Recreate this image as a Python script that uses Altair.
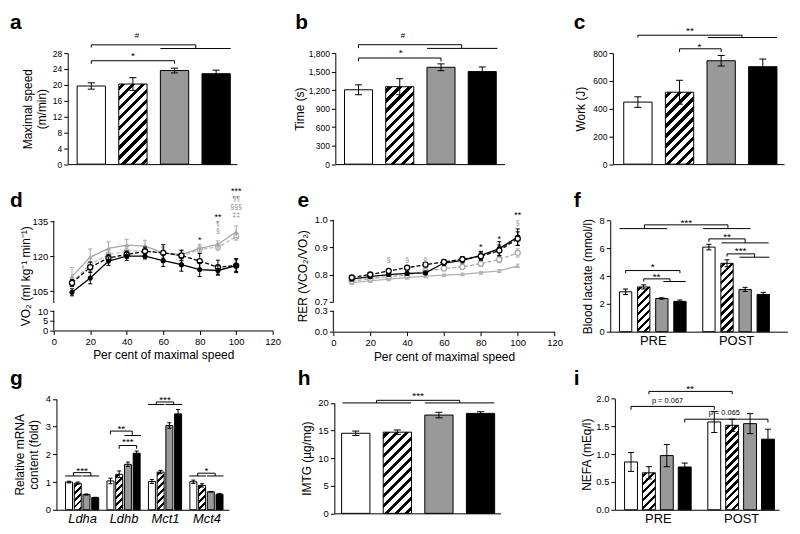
import altair as alt
import pandas as pd

FONT = "Liberation Sans"

# ---------------- values ----------------
bar_fills = ["#ffffff", "hatch", "#999999", "#000000"]

a_values = [19.7, 20.2, 23.6, 22.8]
a_errors = [0.8, 1.6, 0.6, 0.9]

b_values = [1205, 1255, 1570, 1500]
b_errors = [80, 130, 55, 75]

c_values = [447, 518, 745, 702]
c_errors = [38, 86, 38, 55]

speed_pct = [10, 20, 30, 40, 50, 60, 70, 80, 90, 100]
vo2_black_solid = [104.6, 110.7, 117.9, 120.0, 120.0, 118.1, 116.4, 114.3, 113.9, 116.0]
vo2_black_solid_err = [1.5, 2.5, 1.8, 1.8, 1.2, 2.5, 2.8, 3.0, 2.0, 2.5]
vo2_black_dashed = [108.6, 115.3, 119.3, 120.7, 122.1, 121.4, 120.3, 117.9, 115.3, 116.0]
vo2_black_dashed_err = [1.5, 2.2, 1.5, 1.5, 1.8, 3.5, 2.2, 3.2, 3.0, 3.0]
vo2_gray_solid = [111.4, 119.6, 123.3, 124.7, 124.3, 121.4, 120.7, 123.3, 125.0, 130.4]
vo2_gray_solid_err = [3.8, 3.5, 2.8, 2.5, 2.5, 2.5, 2.0, 1.8, 1.5, 2.5]
vo2_gray_dashed = [108.9, 116.6, 120.7, 122.1, 122.4, 121.4, 120.0, 122.9, 123.9, 128.3]
vo2_gray_dashed_err = [2.0, 2.5, 2.0, 2.0, 2.0, 2.0, 2.0, 1.5, 1.5, 1.5]

rer_black_solid = [0.783, 0.792, 0.800, 0.804, 0.806, 0.842, 0.852, 0.870, 0.895, 0.937]
rer_black_solid_err = [0.005, 0.005, 0.006, 0.006, 0.006, 0.008, 0.010, 0.015, 0.025, 0.030]
rer_black_dashed = [0.789, 0.800, 0.813, 0.825, 0.836, 0.846, 0.856, 0.867, 0.888, 0.931]
rer_black_dashed_err = [0.005, 0.005, 0.006, 0.007, 0.007, 0.008, 0.010, 0.015, 0.020, 0.025]
rer_gray_solid = [0.770, 0.777, 0.783, 0.789, 0.794, 0.798, 0.801, 0.807, 0.813, 0.832]
rer_gray_solid_err = [0.004, 0.004, 0.004, 0.004, 0.004, 0.004, 0.004, 0.004, 0.005, 0.006]
rer_gray_dashed = [0.776, 0.785, 0.792, 0.798, 0.813, 0.822, 0.828, 0.840, 0.855, 0.879]
rer_gray_dashed_err = [0.005, 0.005, 0.005, 0.006, 0.006, 0.007, 0.008, 0.010, 0.012, 0.015]

phases = ["PRE", "POST"]
lactate_pre = [2.87, 3.22, 2.39, 2.18]
lactate_pre_err = [0.20, 0.15, 0.05, 0.10]
lactate_post = [6.09, 4.92, 3.04, 2.68]
lactate_post_err = [0.20, 0.25, 0.15, 0.15]

genes = ["Ldha", "Ldhb", "Mct1", "Mct4"]
mrna_white = [1.00, 1.04, 1.02, 1.01]
mrna_hatched = [0.96, 1.28, 1.36, 0.88]
mrna_gray = [0.55, 1.64, 3.04, 0.65]
mrna_black = [0.44, 2.04, 3.46, 0.56]
mrna_white_err = [0.03, 0.10, 0.07, 0.06]
mrna_hatched_err = [0.04, 0.12, 0.06, 0.06]
mrna_gray_err = [0.02, 0.08, 0.10, 0.01]
mrna_black_err = [0.01, 0.08, 0.16, 0.03]

imtg_values = [14.5, 14.7, 17.8, 18.1]
imtg_errors = [0.4, 0.4, 0.5, 0.3]

nefa_pre = [0.86, 0.665, 0.975, 0.77]
nefa_pre_err = [0.17, 0.11, 0.20, 0.07]
nefa_post = [1.58, 1.52, 1.55, 1.27]
nefa_post_err = [0.19, 0.11, 0.18, 0.18]

# ---------------- layout ----------------
HC = 112
CELL_W = [241, 241, 174]
COL_GAP = 41
ROW_GAP = 62


def label_expr(pairs, tol):
    expr = "''"
    for v, lab in reversed(pairs):
        expr = f"abs(datum.value - {v}) < {tol} ? '{lab}' : ({expr})"
    return expr


def hatch_fill(wpx, hpx, period, frac=0.42):
    tot = wpx + hpx
    k = tot / (wpx ** 2 + hpx ** 2)
    pt = period / tot
    stops = [{"offset": 0.0, "color": "#ffffff"}]
    prev = "#ffffff"
    s = 0.25 * pt
    while s < 1.0:
        for off, col in ((s, "#000000"), (s + frac * pt, "#ffffff")):
            off = round(min(off, 1.0), 5)
            stops.append({"offset": off, "color": prev})
            stops.append({"offset": off, "color": col})
            prev = col
        s += pt
    stops.append({"offset": 1.0, "color": prev})
    return {"gradient": "linear", "x1": 0, "y1": 0,
            "x2": round(k * wpx, 5), "y2": round(k * hpx, 5), "stops": stops}


def make_scales(geom, xdom, ydom):
    ax, w, ay, h = geom
    xs = alt.Scale(domain=xdom, range=[ax, ax + w], nice=False, zero=False)
    ys = alt.Scale(domain=ydom, range=[ay + h, ay], nice=False, zero=False)
    return xs, ys


def annotation_layers(X, Y, brackets, lines, marks):
    segs = []
    for x1, x2, y, l1, l2 in brackets:
        segs.append((x1, x2, y, y))
        segs.append((x1, x1, y, l1))
        segs.append((x2, x2, y, l2))
    for x1, x2, y in lines:
        segs.append((x1, x2, y, y))
    layers = []
    if segs:
        sdf = pd.DataFrame(segs, columns=["sx", "sx2", "sy", "sy2"])
        layers.append(alt.Chart(sdf).mark_rule(color="black", strokeWidth=1).encode(
            x=X("sx"), x2="sx2:Q", y=Y("sy"), y2="sy2:Q"))
    for x, y, t, size, color in marks:
        is_star = set(t) == {"*"}
        mdf = pd.DataFrame({"mx": [x], "my": [y], "mt": [t]})
        layers.append(alt.Chart(mdf).mark_text(
            fontSize=size, color=color, baseline="middle", align="center",
            dy=round(0.28 * size) if is_star else 0, font=FONT).encode(
            x=X("mx"), y=Y("my"), text="mt:N"))
    return layers


def letter_layer(letter, lx, ly):
    return alt.Chart(pd.DataFrame({"t": [letter]})).mark_text(
        fontSize=21, fontWeight="bold", align="left", baseline="alphabetic", font=FONT
    ).encode(x=alt.value(lx), y=alt.value(ly), text="t:N")


def bar_panel(geom, xdom, ydom, xpos, vals, errs, fills, hw, capw, period,
              yaxis, xaxis, brackets, lines, marks, letter, lpos, cell_w):
    ax, w, ay, h = geom
    xs, ys = make_scales(geom, xdom, ydom)
    px_x = w / (xdom[1] - xdom[0])
    px_y = h / (ydom[1] - ydom[0])

    def X(f):
        return alt.X(f + ":Q", scale=xs, axis=xaxis)

    def Y(f):
        return alt.Y(f + ":Q", scale=ys, axis=yaxis)

    bars = pd.DataFrame({"pos": xpos, "val": vals, "err": errs, "fill": fills})
    bars["xl"] = bars["pos"] - hw
    bars["xr"] = bars["pos"] + hw
    bars["base"] = 0.0
    bars["lo"] = bars["val"] - bars["err"]
    bars["hi"] = bars["val"] + bars["err"]

    layers = []
    solid = bars[bars["fill"] != "hatch"]
    layers.append(alt.Chart(solid).mark_rect(stroke="black", strokeWidth=1).encode(
        x=X("xl"), x2="xr:Q", y=Y("val"), y2="base:Q",
        fill=alt.Fill("fill:N", scale=None)))
    for _, row in bars[bars["fill"] == "hatch"].iterrows():
        grad = hatch_fill(2 * hw * px_x, row["val"] * px_y, period)
        one = pd.DataFrame({"xl": [row["xl"]], "xr": [row["xr"]], "val": [row["val"]], "base": [0.0]})
        layers.append(alt.Chart(one).mark_rect(fill=grad, stroke="black", strokeWidth=1).encode(
            x=X("xl"), x2="xr:Q", y=Y("val"), y2="base:Q"))
    layers.append(alt.Chart(bars).mark_rule(color="black", strokeWidth=1).encode(
        x=X("pos"), y=Y("lo"), y2="hi:Q"))
    caps = pd.DataFrame({
        "cl": list(bars["pos"] - capw) * 2,
        "cr": list(bars["pos"] + capw) * 2,
        "cy": list(bars["lo"]) + list(bars["hi"]),
    })
    layers.append(alt.Chart(caps).mark_rule(color="black", strokeWidth=1).encode(
        x=X("cl"), x2="cr:Q", y=Y("cy")))
    layers += annotation_layers(X, Y, brackets, lines, marks)
    layers.append(letter_layer(letter, *lpos))
    return alt.layer(*layers).properties(width=cell_w, height=HC)


def line_panel(geom, xdom, ydom, series, capw, yaxis, xaxis, axis_breaks, marks, letter, lpos, cell_w):
    xs, ys = make_scales(geom, xdom, ydom)

    def X(f):
        return alt.X(f + ":Q", scale=xs, axis=xaxis)

    def Y(f):
        return alt.Y(f + ":Q", scale=ys, axis=yaxis)

    layers = []
    bdf = pd.DataFrame({"bx": [xdom[0]] * len(axis_breaks),
                        "by": [b[0] for b in axis_breaks],
                        "by2": [b[1] for b in axis_breaks]})
    layers.append(alt.Chart(bdf).mark_rule(color="black", strokeWidth=1).encode(
        x=X("bx"), y=Y("by"), y2="by2:Q"))
    for vals, errs, color, dashed, marker in series:
        df = pd.DataFrame({"x": speed_pct, "v": vals, "e": errs})
        df["lo"] = df["v"] - df["e"]
        df["hi"] = df["v"] + df["e"]
        lkw = {"color": color, "strokeWidth": 1.3}
        if dashed:
            lkw["strokeDash"] = [4, 2]
        layers.append(alt.Chart(df).mark_line(**lkw).encode(x=X("x"), y=Y("v")))
        layers.append(alt.Chart(df).mark_rule(color=color, strokeWidth=1).encode(
            x=X("x"), y=Y("lo"), y2="hi:Q"))
        caps = pd.DataFrame({"cl": [x - capw for x in speed_pct] * 2,
                             "cr": [x + capw for x in speed_pct] * 2,
                             "cy": list(df["lo"]) + list(df["hi"])})
        layers.append(alt.Chart(caps).mark_rule(color=color, strokeWidth=1).encode(
            x=X("cl"), x2="cr:Q", y=Y("cy")))
        if marker == "filled":
            pm = dict(shape="circle", size=26, filled=True, color=color, opacity=1)
        elif marker == "open":
            pm = dict(shape="circle", size=26, filled=True, fill="white", stroke=color,
                      strokeWidth=1.3, opacity=1)
        else:
            pm = dict(shape="triangle-up", size=24, filled=True, color=color, opacity=1)
        layers.append(alt.Chart(df).mark_point(**pm).encode(x=X("x"), y=Y("v")))
    layers += annotation_layers(X, Y, [], [], marks)
    layers.append(letter_layer(letter, *lpos))
    return alt.layer(*layers).properties(width=cell_w, height=HC)


def yax(values, title, offset, pad, size, fmt=None, expr=None, domain=True):
    kw = dict(values=values, title=title, offset=offset, titlePadding=pad,
              labelFontSize=size, titleFontSize=12, tickSize=4, domain=domain)
    if fmt:
        kw["format"] = fmt
    if expr:
        kw["labelExpr"] = expr
    return alt.Axis(**kw)


def plain_xax(offset):
    return alt.Axis(labels=False, ticks=False, title=None, domain=True, offset=offset)


def cat_xax(values, labels, offset, italic=False):
    kw = dict(values=values, labelExpr=label_expr(list(zip(values, labels)), 0.05),
              title=None, tickSize=0, ticks=False, labelPadding=3, labelFontSize=13,
              offset=offset, domain=True)
    if italic:
        kw["labelFontStyle"] = "italic"
    return alt.Axis(**kw)


def xoff(geom):
    return geom[2] + geom[3] - HC


# ---------------- panels a, b, c ----------------
pos4 = [0, 1, 2, 3]

ga = (14, 170, 0, 111.6)
panel_a = bar_panel(
    ga, [-0.567, 3.497], [0, 28], pos4, a_values, a_errors, bar_fills, 0.34, 0.085, 10,
    yax(list(range(0, 29, 4)), ["Maximal speed", "(m/min)"], -ga[0], 4, 8.5),
    plain_xax(xoff(ga)),
    [(0, 2, 26.07, 25.3, 25.3), (0, 2.51, 30.08, 29.4, 29.15)],
    [(1.66, 3.35, 29.15)],
    [(1.1, 32.3, "#", 8, "black"), (1.0, 27.97, "*", 10, "black")],
    "a", (-44, -24.4), CELL_W[0])

gb = (1, 170, 0, 111.6)
panel_b = bar_panel(
    gb, [-0.562, 3.539], [0, 1800], pos4, b_values, b_errors, bar_fills, 0.34, 0.085, 10,
    yax(list(range(0, 1801, 300)), "Time (s)", -gb[0], 2, 8.5, fmt=",.0f"),
    plain_xax(xoff(gb)),
    [(0, 2, 1720, 1666, 1666), (0, 2.5, 1936, 1881, 1876)],
    [(1.66, 3.37, 1876)],
    [(1.08, 2081, "#", 8, "black"), (1.02, 1844, "*", 10, "black")],
    "b", (-39.3, -24.4), CELL_W[1])

gc = (-2, 172, 0, 111.6)
panel_c = bar_panel(
    gc, [-0.6, 3.51], [0, 800], pos4, c_values, c_errors, bar_fills, 0.34, 0.085, 10,
    yax(list(range(0, 801, 200)), "Work (J)", -gc[0], 5, 8.5),
    plain_xax(xoff(gc)),
    [(1, 2, 831, 807, 807), (0, 2.5, 929, 912, 912)],
    [(1.68, 3.34, 912)],
    [(1.48, 867, "*", 10, "black"), (1.25, 979, "**", 10, "black")],
    "c", (-41.3, -24.4), CELL_W[2])

# ---------------- panels d, e ----------------
GRAY_TXT = "#8a8a8a"
gd = (0, 220, -5.2, 110)
d_ticks = [(88.3, "0"), (92.45, "5"), (96.6, "10"), (105, "105"), (120, "120"), (135, "135")]
panel_d = line_panel(
    gd, [0, 120], [88.3, 135],
    [(vo2_gray_dashed, vo2_gray_dashed_err, "#bdbdbd", True, "open"),
     (vo2_gray_solid, vo2_gray_solid_err, "#a6a6a6", False, "tri"),
     (vo2_black_dashed, vo2_black_dashed_err, "#000000", True, "open"),
     (vo2_black_solid, vo2_black_solid_err, "#000000", False, "filled")],
    1.1,
    yax([t[0] for t in d_ticks], "VO₂ (ml kg⁻¹ min⁻¹)", -gd[0], 0, 9.5,
        expr=label_expr(d_ticks, 0.05), domain=False),
    alt.Axis(values=list(range(0, 121, 20)), format="d", title="Per cent of maximal speed",
             titleFontSize=12, labelFontSize=9.5, tickSize=4, offset=xoff(gd)),
    [(88.3, 96.6), (100.0, 135.0)],
    [(80, 128.1, "*", 9, "black"), (90, 138.2, "**", 9, "black"),
     (90, 133.9, "¶", 7, GRAY_TXT), (90, 130.6, "§", 7, GRAY_TXT),
     (100, 149.0, "***", 9, "black"), (100, 144.6, "¶¶", 7, GRAY_TXT),
     (100, 141.0, "§§§", 7, GRAY_TXT), (100, 137.4, "‡‡", 7, GRAY_TXT)],
    "d", (-44, -19), CELL_W[0])

ge = (-1, 222.4, -6.4, 112.4)
e_ticks = [(0.591, "0.0"), (0.667, "0.3"), (0.7, "0.7"), (0.8, "0.8"), (0.9, "0.9"), (1.0, "1.0")]
panel_e = line_panel(
    ge, [0, 120], [0.591, 1.0],
    [(rer_gray_solid, rer_gray_solid_err, "#b3b3b3", False, "tri"),
     (rer_gray_dashed, rer_gray_dashed_err, "#a8a8a8", True, "open"),
     (rer_black_solid, rer_black_solid_err, "#000000", False, "filled"),
     (rer_black_dashed, rer_black_dashed_err, "#000000", True, "open")],
    1.1,
    yax([t[0] for t in e_ticks], "RER (VCO₂/VO₂)", -ge[0], 5, 9.5,
        expr=label_expr(e_ticks, 0.005), domain=False),
    alt.Axis(values=list(range(0, 121, 20)), format="d", title="Per cent of maximal speed",
             titleFontSize=12, labelFontSize=9.5, tickSize=4, offset=xoff(ge)),
    [(0.591, 0.667), (0.7, 1.0)],
    [(30, 0.854, "§", 7, GRAY_TXT), (40, 0.854, "§", 7, GRAY_TXT), (50, 0.854, "§", 7, GRAY_TXT),
     (80, 0.910, "*", 9, "black"), (90, 0.939, "*", 9, "black"),
     (100, 1.028, "**", 9, "black"), (100, 0.988, "§", 7, GRAY_TXT)],
    "e", (-37, -19), CELL_W[1])

# ---------------- panel f ----------------
gf = (-4.7, 178, -5.7, 111.7)
f_post0 = 4.6
f_pos = [0, 1, 2, 3] + [f_post0 + k for k in range(4)]
panel_f = bar_panel(
    gf, [-0.85, 8.93], [0, 8], f_pos, lactate_pre + lactate_post,
    lactate_pre_err + lactate_post_err, bar_fills * 2, 0.34, 0.14, 8,
    yax([0, 2, 4, 6, 8], "Blood lactate (mmol/l)", -gf[0], 5, 9.5),
    cat_xax([1.5, f_post0 + 1.5], phases, xoff(gf)),
    [(1.04, 5.65, 7.69, 7.42, 7.42), (4.6, 6.6, 6.68, 6.47, 6.39),
     (5.6, 7.12, 5.6, 5.41, 5.36), (0, 3, 4.4, 4.21, 4.21), (1, 2.45, 3.8, 3.61, 3.61)],
    [(-0.34, 2.3, 7.42), (4.28, 6.9, 7.42), (5.29, 7.9, 6.39), (6.29, 7.94, 5.36),
     (2.08, 3.32, 3.61)],
    [(3.35, 8.07, "***", 10, "black"), (5.6, 7.04, "**", 10, "black"),
     (6.35, 6.01, "***", 10, "black"), (1.5, 4.88, "*", 10, "black"),
     (1.71, 4.16, "**", 10, "black")],
    "f", (-41.3, -19), CELL_W[2])

# ---------------- panel g ----------------
gg = (2.7, 173.3, -0.4, 111.4)
g_step = 4.75
g_pos, g_vals, g_errs, g_fills = [], [], [], []
for j in range(len(genes)):
    for k, (vl, el) in enumerate([(mrna_white, mrna_white_err), (mrna_hatched, mrna_hatched_err),
                                  (mrna_gray, mrna_gray_err), (mrna_black, mrna_black_err)]):
        g_pos.append(g_step * j + k)
        g_vals.append(vl[j])
        g_errs.append(el[j])
        g_fills.append(bar_fills[k])
g_br, g_ln, g_mk = [], [], []
for j, (yl, yb, yt, t) in zip([0, 2, 3], [(1.22, 1.34, 1.52, "***"), (3.8, 3.89, 4.07, "***"),
                                         (1.22, 1.32, 1.52, "*")]):
    o = g_step * j
    g_ln += [(o - 0.45, o + 1.45, yl), (o + 1.55, o + 3.45, yl)]
    g_br.append((o + 0.5, o + 2.5, yb, yl, yl))
    g_mk.append((o + 1.5, yt, t, 10, "black"))
o = g_step
g_br += [(o, o + 2.5, 2.84, 2.72, 2.68), (o + 1, o + 3, 2.32, 2.2, 2.2)]
g_ln += [(o + 1.6, o + 3.5, 2.68)]
g_mk += [(o + 1.25, 3.02, "**", 10, "black"), (o + 2.0, 2.54, "***", 10, "black")]
panel_g = bar_panel(
    gg, [-1.44, 18.32], [0, 4], g_pos, g_vals, g_errs, g_fills, 0.4, 0.23, 7,
    yax([0, 1, 2, 3, 4], ["Relative mRNA", "content (fold)"], -gg[0], 5, 9.5),
    cat_xax([g_step * j + 1.5 for j in range(4)], genes, xoff(gg), italic=True),
    g_br, g_ln, g_mk, "g", (-44, -14.7), CELL_W[0])

# ---------------- panel h ----------------
gh = (0, 167, 3.6, 111)
panel_h = bar_panel(
    gh, [-0.515, 3.48], [0, 20], pos4, imtg_values, imtg_errors, bar_fills, 0.34, 0.085, 10,
    yax([0, 5, 10, 15, 20], "IMTG (µg/mg)", -gh[0], 4, 9.5),
    plain_xax(xoff(gh)),
    [(0.5, 2.5, 20.47, 20, 20)],
    [(-0.32, 1.33, 20), (1.66, 3.33, 20)],
    [(1.5, 21.8, "***", 10, "black")],
    "h", (-36.7, -14.7), CELL_W[1])

# ---------------- panel i ----------------
gi = (0, 165, -0.7, 111.7)
i_post0 = 4.65
i_pos = [0, 1, 2, 3] + [i_post0 + k for k in range(4)]
panel_i = bar_panel(
    gi, [-0.9, 8.27], [0, 2], i_pos, nefa_pre + nefa_post, nefa_pre_err + nefa_post_err,
    bar_fills * 2, 0.36, 0.17, 8,
    yax([0, 0.5, 1, 1.5, 2], "NEFA (mEq/l)", -gi[0], 2, 9.5, fmt=".1f"),
    cat_xax([1.5, i_post0 + 1.5], phases, xoff(gi)),
    [(1, i_post0 + 1, 2.13, 2.08, 2.08), (0, i_post0, 1.86, 1.80, 1.80),
     (3, i_post0 + 3, 1.63, 1.57, 1.57)],
    [],
    [(3.3, 2.23, "**", 10, "black"), (2.04, 1.95, "p = 0.067", 7.5, "black"),
     (5.21, 1.75, "p = 0.065", 7.5, "black")],
    "i", (-41.3, -14.7), CELL_W[2])

chart = alt.concat(
    panel_a, panel_b, panel_c, panel_d, panel_e, panel_f, panel_g, panel_h, panel_i,
    columns=3, spacing={"row": ROW_GAP, "column": COL_GAP}, bounds="flush", align="all"
).properties(
    padding={"left": 2, "top": 2, "right": 0, "bottom": 0}
).configure_view(stroke=None).configure_axis(
    labelFont=FONT, titleFont=FONT, labelColor="black", titleColor="black",
    tickColor="black", domainColor="black", grid=False, labelFlush=False,
    labelOverlap=False, titleFontWeight="normal", labelPadding=2, tickWidth=1, domainWidth=1
).configure_text(font=FONT)

chart.save("out.html", embed_options={"renderer": "svg", "actions": False})
